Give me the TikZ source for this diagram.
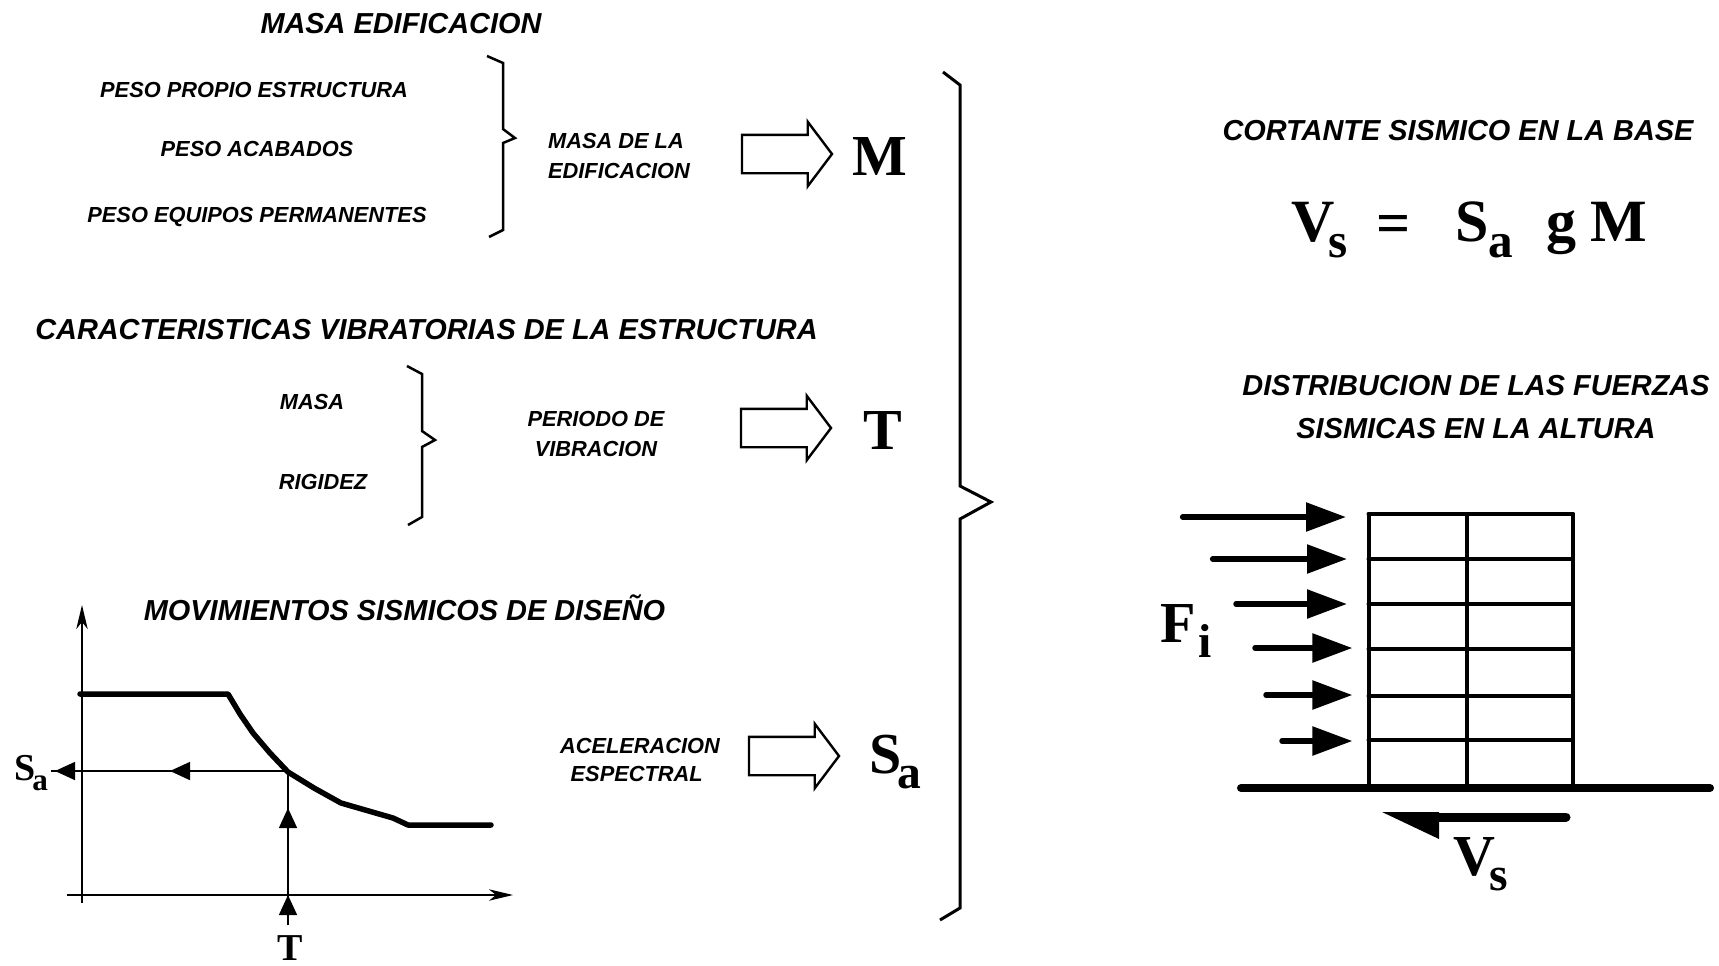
\documentclass[tikz,border=0pt]{standalone}
\usepackage{fontspec}
\usepackage{graphicx}
\setmainfont{Liberation Sans}
\newfontfamily\symfont{Liberation Serif}
\usetikzlibrary{arrows.meta,shapes.arrows}
\newcommand{\lowsub}[1]{\raisebox{-.27em}{\scalebox{.82}{#1}}}
\tikzset{
headtext/.style={font=\fontsize{14.45}{21.5}\selectfont\bfseries\itshape,inner sep=0pt},
smalltext/.style={font=\fontsize{10.9}{15}\selectfont\bfseries\itshape,inner sep=0pt},
symbig/.style={font=\fontsize{30}{30}\symfont\bfseries,inner sep=0pt},
symhuge/.style={font=\fontsize{29}{29}\symfont\bfseries,inner sep=0pt},
symsmall/.style={font=\fontsize{19}{19}\symfont\bfseries,inner sep=0pt},
hollow/.style={draw,line width=1.2pt,single arrow,anchor=tail,minimum height=45pt,single arrow tip angle=106,single arrow head extend=6.5pt,inner sep=9pt,outer sep=0pt},
brace/.style={line width=1.25pt},
thinline/.style={line width=.75pt},
thickline/.style={line width=2.75pt,line cap=round,line join=round},
frame/.style={line width=2pt,line cap=round},
force/.style={line width=2.75pt,line cap=round,-{Triangle[length=20pt,width=14pt]}},
axis/.style={thinline,-{Stealth[length=12pt,width=5.7pt,inset=3.5pt]}},
tipline/.style={thinline,-{Triangle[length=10pt,width=9pt]}}
}
\begin{document}
\begin{tikzpicture}[x=0.5pt,y=-0.5pt]
\useasboundingbox (0,0) rectangle (1719,965);

\node[headtext,anchor=base] (tmasa) at (401,33) {MASA EDIFICACION};
\node[smalltext,anchor=base] (ppropio) at (254,97) {PESO PROPIO ESTRUCTURA};
\node[smalltext,anchor=base] (pacab) at (257,156) {PESO ACABADOS};
\node[smalltext,anchor=base] (pequipo) at (257,222) {PESO EQUIPOS PERMANENTES};
\node[smalltext,align=left] (lmasa) at (619,155.5) {MASA DE LA\\EDIFICACION};
\node[hollow] (am) at (742,154) {};
\node[symhuge,anchor=base] (sm) at (880,175) {M};
\draw[brace] (487,56)--(503,63)--(503,129)--(515,138)--(503,143)--(503,230)--(489,237);

\node[headtext,anchor=base] (tcarac) at (426.5,339) {CARACTERISTICAS VIBRATORIAS DE LA ESTRUCTURA};
\node[smalltext,anchor=base] (pmasa) at (312,409) {MASA};
\node[smalltext,anchor=base] (prig) at (323,489) {RIGIDEZ};
\node[smalltext,align=center] (lper) at (596,434) {PERIODO DE\\VIBRACION};
\node[hollow] (at) at (741,428) {};
\node[symhuge,anchor=base] (st) at (882.5,449) {T};
\draw[brace] (407,366)--(422,374)--(422,431)--(435,440)--(422,447)--(422,517)--(408,525);

\node[headtext,anchor=base] (tmov) at (404.5,620) {MOVIMIENTOS SISMICOS DE DISE\~NO};
\node[smalltext,align=center,font=\fontsize{10.9}{14.25}\selectfont\bfseries\itshape] (lacel) at (640,760) {ACELERACION\\ESPECTRAL\hspace*{3.3pt}};
\node[hollow] (as) at (749,756) {};
\node[symhuge,anchor=base west] (ssa) at (869,773) {S\kern-.08em\lowsub{a}};

\coordinate (yb) at (82,903);
\coordinate (yt) at (82,605);
\coordinate (xl) at (67,895);
\coordinate (xr) at (513,895);
\coordinate (pk) at (288,772);
\coordinate (ha) at (170,771);
\coordinate (hb) at (55,771);
\coordinate (he) at (51,771);
\coordinate (vb) at (288,925);
\coordinate (va) at (288,808);
\coordinate (vc) at (288,895);
\draw[axis] (yb)--(yt);
\draw[axis] (xl)--(xr);
\draw[thickline] (80,694)--(228,694)--(240,714)--(253,733)--(270,753)--(pk)--(314,788)--(341,803)--(393,818)--(408,825)--(491,825);
\draw[thinline] (288,771)--(he);
\draw[tipline] (288,771)--(ha);
\draw[tipline] (288,771)--(hb);
\draw[thinline] (vb)--(pk);
\draw[tipline] (vb)--(va);
\draw[tipline] (vb)--(vc);
\node[symsmall,anchor=base west] (lsa) at (14,780) {S\kern-.08em\lowsub{a}};
\node[symsmall,anchor=base] (lt) at (290,960) {T};

\draw[line width=1.5pt] (943,72)--(960,85)--(960,486)--(991,502)--(960,519)--(960,908)--(940,920);

\node[headtext,anchor=base] (tcort) at (1458,140) {CORTANTE SISMICO EN LA BASE};
\node[symbig,anchor=base west] (eqv) at (1291,241) {V\kern-.1em\lowsub{s}};
\node[symbig,anchor=base] (eqe) at (1394,243) {=};
\node[symbig,anchor=base west] (eqs) at (1455,241) {S\lowsub{a}};
\node[symbig,anchor=base west] (eqg) at (1546,241) {g};
\node[symbig,anchor=base west] (eqm) at (1590,241) {M};
\node[headtext,align=center] (tdist) at (1476,407) {DISTRIBUCION DE LAS FUERZAS\\SISMICAS EN LA ALTURA};

\foreach \y in {514,559,604,649,696,740} \draw[frame] (1368.5,\y)--(1573,\y);
\foreach \x in {1368.5,1467,1573} \draw[frame] (\x,514)--(\x,788);
\coordinate (gl) at (1241,788);
\coordinate (gr) at (1710,788);
\draw[line width=4pt,line cap=round] (gl)--(gr);

\foreach \i/\xs/\y/\xt in {1/1182.6/517/1346,2/1212.6/559/1347,3/1236/604/1347,4/1255/648/1352.4,5/1266/695/1352.4,6/1282/741/1352.4}{
\coordinate (fs\i) at (\xs,\y);
\coordinate (ft\i) at (\xt,\y);
\draw[force] (fs\i)--(ft\i);
}
\node[symhuge,anchor=base west] (lfi) at (1160,642) {F\kern.05em\lowsub{i}};

\coordinate (vsr) at (1566,817);
\coordinate (vsm) at (1439,817);
\draw[line width=4.5pt,line cap=round] (vsr)--(vsm);
\fill (1382,812)--(1439,839)--(1439,812)--cycle;
\node[symhuge,anchor=base west] (lvs) at (1453,875) {V\kern-.1em\lowsub{s}};
\end{tikzpicture}
\end{document}
